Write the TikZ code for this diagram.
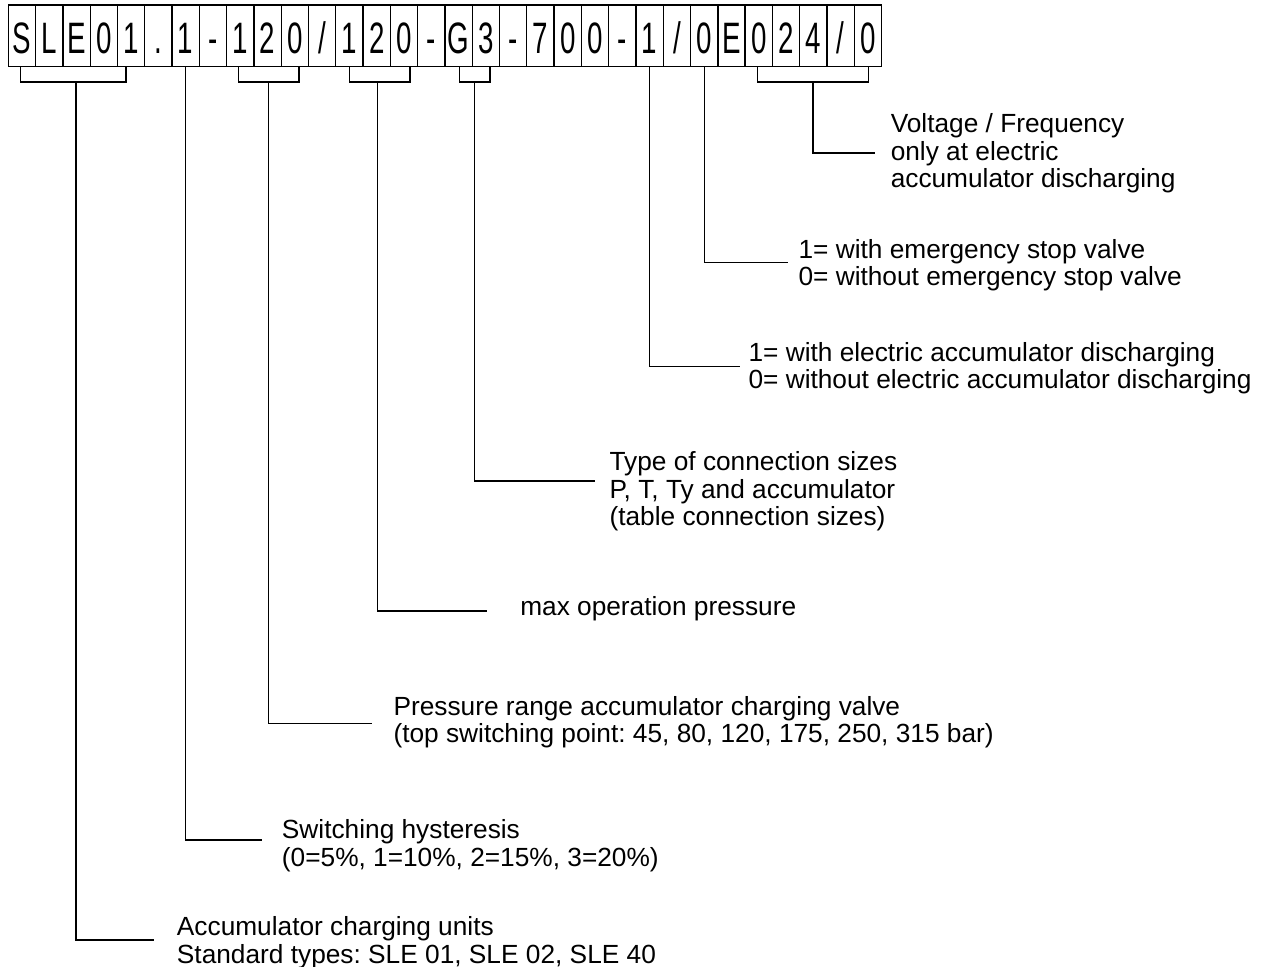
\documentclass[tikz,border=0pt]{standalone}
\usepackage{fontspec}
\setmainfont{Liberation Sans}
\newfontfamily\cellfont[FakeStretch=0.63]{Liberation Sans}
\frenchspacing

\tikzset{
    cell/.style={draw, line width=1pt, minimum width=20.47pt, minimum height=46.3pt,
        inner sep=0pt, font=\cellfont\fontsize{33}{33}\selectfont, text height=26.2pt, text depth=0pt},
    lead/.style={line width=1pt},
    lbl/.style={anchor=base west, inner sep=0pt, align=left,
        font=\fontsize{19.7}{20.6}\selectfont}
}

\begin{document}
\begin{tikzpicture}[x=0.75pt, y=-0.75pt]
    \useasboundingbox (0,0) rectangle (1272,967);

    % type code row
    \foreach \ch [count=\i] in {S,L,E,0,1,.,1,-,1,2,0,/,1,2,0,-,G,3,-,7,0,0,-,1,/,0,E,0,2,4,/,0}
        \node[cell] (c\i) at ({8.3+27.29*(\i-0.5)},35.85) {\ch};

    % brackets under the code
    \draw[lead] (20.7,67) -- (20.7,82) -- (126,82) -- (126,67);
    \draw[lead] (238.3,67) -- (238.3,82) -- (299,82) -- (299,67);
    \draw[lead] (349.3,67) -- (349.3,82) -- (410,82) -- (410,67);
    \draw[lead] (459.3,67) -- (459.3,82) -- (490,82) -- (490,67);
    \draw[lead] (757.7,67) -- (757.7,82) -- (868.3,82) -- (868.3,67);

    \coordinate (unit) at (76,82);
    \coordinate (hyst) at (c7.south);
    \coordinate (range) at (268.3,82);
    \coordinate (maxp) at (377.7,82);
    \coordinate (conn) at (474.5,82);
    \coordinate (disch) at (c24.south);
    \coordinate (stopv) at (c26.south);
    \coordinate (volt) at (813,82);

    \coordinate (unitEnd) at (154.3,940);
    \coordinate (hystEnd) at (261.7,840);
    \coordinate (rangeEnd) at (371.7,723.3);
    \coordinate (maxpEnd) at (486.7,611);
    \coordinate (connEnd) at (595,481);
    \coordinate (dischEnd) at (740,366.7);
    \coordinate (stopvEnd) at (787.7,262.7);
    \coordinate (voltEnd) at (875,153);

    % labels (base = baseline of the last line)
    \node[lbl] (voltLbl) at (890.5,187.5) {Voltage / Frequency\\only at electric\\accumulator discharging};
    \node[lbl] (stopvLbl) at (798.3,285.5) {1= with emergency stop valve\\0= without emergency stop valve};
    \node[lbl] (dischLbl) at (748.3,388.5) {1= with electric accumulator discharging\\0= without electric accumulator discharging};
    \node[lbl] (connLbl) at (609.3,525.5) {Type of connection sizes\\P, T, Ty and accumulator\\(table connection sizes)};
    \node[lbl] (maxpLbl) at (520,615) {max operation pressure};
    \node[lbl] (rangeLbl) at (393.3,742.8) {Pressure range accumulator charging valve\\(top switching point: 45, 80, 120, 175, 250, 315 bar)};
    \node[lbl] (hystLbl) at (281.7,866.3) {Switching hysteresis\\(0=5\%, 1=10\%, 2=15\%, 3=20\%)};
    \node[lbl] (unitLbl) at (176.7,963) {Accumulator charging units\\Standard types: SLE 01, SLE 02, SLE 40};

    % leader lines
    \foreach \k in {unit,hyst,range,maxp,conn,disch,stopv,volt}
        \draw[lead] (\k) |- (\k End);
\end{tikzpicture}
\end{document}
